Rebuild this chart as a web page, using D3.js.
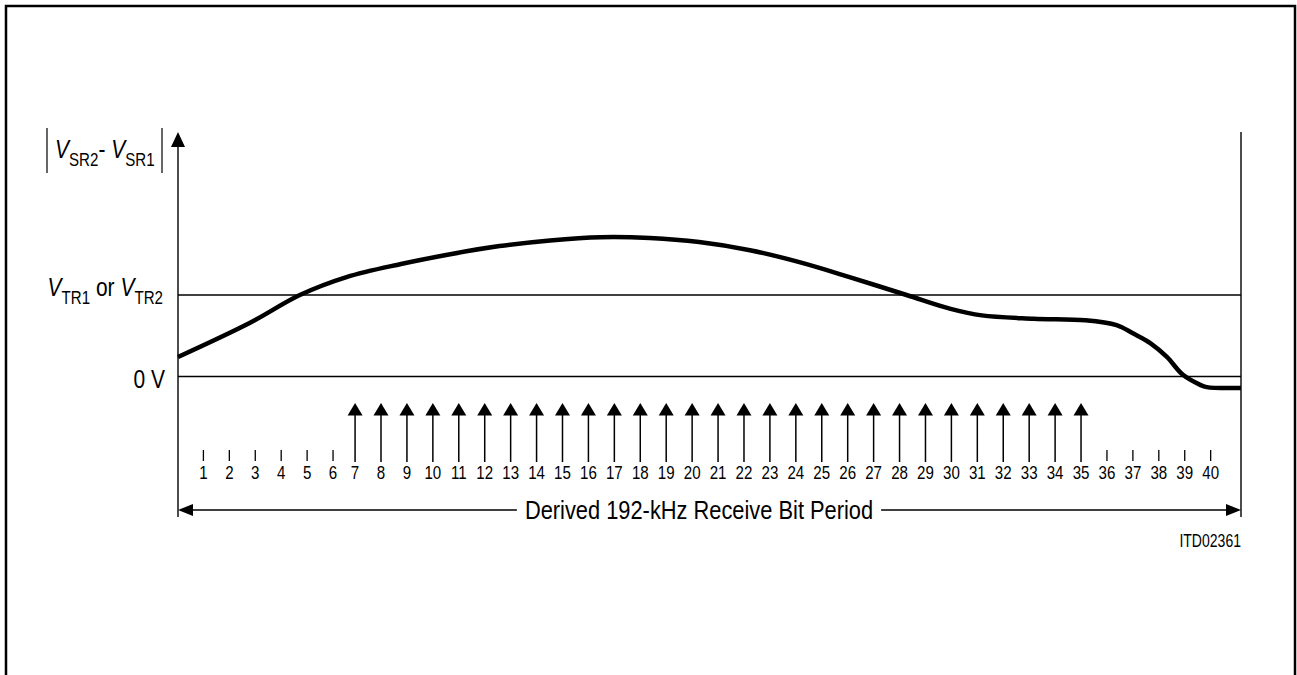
<!DOCTYPE html>
<html>
<head>
<meta charset="utf-8">
<script src="https://cdn.jsdelivr.net/npm/d3@7"></script>
<style>
  body { margin: 0; background: #fff; }
  svg text { font-family: "Liberation Sans", Arial, sans-serif; fill: #000; }
</style>
</head>
<body>
<svg id="chart" width="1297" height="675"></svg>
<script>
// signal |VSR2 - VSR1| against time, in bit periods / threshold units (0 V = 0, VTR = 1)
var curveT = [0, 2.78, 4.7, 6.5, 8.6, 10.5, 12.4, 14.35, 16.3, 18.2, 20.1, 22.06, 24.0, 25.9, 28.1, 29.8, 31.0, 33.0, 35.0, 36.2, 36.83, 37.5, 38.14, 38.76, 39.41, 39.68, 41];
var curveV = [0.24, 0.66, 1.0, 1.22, 1.38, 1.5, 1.6, 1.67, 1.71, 1.7, 1.65, 1.55, 1.4, 1.22, 1.0, 0.83, 0.75, 0.71, 0.69, 0.63, 0.53, 0.41, 0.24, 0.02, -0.1, -0.13, -0.14];

var bitNumbers = d3.range(1, 41);
var sampledBits = d3.range(7, 36);   // bits with a sampling arrow
var levels = [0, 1];                  // 0 V and VTR

var svg = d3.select('#chart');

var x = d3.scaleLinear().domain([0, 41]).range([178, 1241]);
var y = d3.scaleLinear().domain([0, 1]).range([376.5, 295]);

var Y_TOP = 132, Y_BOTTOM = 517, PERIOD_Y = 510;
var NARROW = 0.84;

/** bits before sampling starts sit a touch later than the sampled ones */
function bitPos(n) {
    return x(n < 7 ? n - 0.02 : n - 0.17);
}

/** condensed text: no narrow face installed, so squeeze horizontally */
function narrowText(parent, px, py, size, anchor, squeeze) {
    return parent.append('text')
        .attr('transform', 'translate(' + px + ',' + py + ') scale(' + (squeeze || NARROW) + ',1)')
        .attr('font-size', size)
        .attr('text-anchor', anchor || 'start');
}

function arrowHead(g, tipX, tipY, dir, len, half) {
    var pts;
    if (dir === 'up') pts = [[tipX, tipY], [tipX - half, tipY + len], [tipX + half, tipY + len]];
    else if (dir === 'left') pts = [[tipX, tipY], [tipX + len, tipY - half], [tipX + len, tipY + half]];
    else pts = [[tipX, tipY], [tipX - len, tipY - half], [tipX - len, tipY + half]];
    g.append('path').attr('d', d3.line()(pts) + 'Z').attr('fill', '#000');
}

/** V's in italic, subscripts dropped; plain strings go back on the baseline */
function subLabel(t, parts) {
    parts.forEach(function(p) {
        if (p === 'V') t.append('tspan').attr('font-style', 'italic').text('V');
        else if (typeof p === 'object') t.append('tspan').attr('font-size', 18).attr('dy', 8).text(p.sub);
        else t.append('tspan').attr('dy', -8).text(p);
    });
}

// outer frame
svg.append('rect')
    .attr('x', 6).attr('y', 6).attr('width', 1289).attr('height', 700)
    .attr('fill', 'none').attr('stroke', '#000').attr('stroke-width', 2.5);

// y axis and right boundary
svg.append('line')
    .attr('x1', x(0)).attr('x2', x(0)).attr('y1', Y_TOP + 10).attr('y2', Y_BOTTOM)
    .attr('stroke', '#000').attr('stroke-width', 1.4);
arrowHead(svg, x(0), Y_TOP, 'up', 15, 7);

svg.append('line')
    .attr('x1', x(41)).attr('x2', x(41)).attr('y1', Y_TOP).attr('y2', Y_BOTTOM)
    .attr('stroke', '#000').attr('stroke-width', 1.4);

// reference levels
svg.selectAll('.level')
    .data(levels)
    .enter()
    .append('line')
        .attr('class', 'level')
        .attr('x1', x(0)).attr('x2', x(41))
        .attr('y1', function(d){ return y(d); })
        .attr('y2', function(d){ return y(d); })
        .attr('stroke', '#000').attr('stroke-width', 1.3);

// signal curve
var line = d3.line()
    .x(function(d){ return x(d[0]); })
    .y(function(d){ return y(d[1]); })
    .curve(d3.curveCatmullRom.alpha(0.5));

svg.append('path')
    .datum(d3.zip(curveT, curveV))
    .attr('d', line)
    .attr('fill', 'none')
    .attr('stroke', '#000')
    .attr('stroke-width', 4.5)
    .attr('stroke-linejoin', 'round');

// y labels
subLabel(narrowText(svg, 163, y(1) + 1, 25, 'end'),
    ['V', {sub: 'TR1'}, ' or ', 'V', {sub: 'TR2'}]);

narrowText(svg, 165, y(0) + 11, 25, 'end').text('0 V');

subLabel(narrowText(svg, 55, 158, 25, 'start'),
    ['V', {sub: 'SR2'}, '- ', 'V', {sub: 'SR1'}]);

[47, 162].forEach(function(bx) {
    svg.append('line')
        .attr('x1', bx).attr('x2', bx).attr('y1', 128).attr('y2', 173)
        .attr('stroke', '#000').attr('stroke-width', 1.2);
});

// bit ticks, sampling arrows, numbers
var bits = svg.append('g').attr('class', 'bits');

bits.selectAll('.tick')
    .data(bitNumbers.filter(function(n){ return sampledBits.indexOf(n) < 0; }))
    .enter()
    .append('line')
        .attr('x1', bitPos).attr('x2', bitPos)
        .attr('y1', 450).attr('y2', 461)
        .attr('stroke', '#000').attr('stroke-width', 1.3);

bits.selectAll('.sample')
    .data(sampledBits)
    .enter()
    .append('g')
        .attr('class', 'sample')
        .each(function(n) {
            var g = d3.select(this);
            g.append('line')
                .attr('x1', bitPos(n)).attr('x2', bitPos(n))
                .attr('y1', 414).attr('y2', 462)
                .attr('stroke', '#000').attr('stroke-width', 1.5);
            arrowHead(g, bitPos(n), 403, 'up', 12.5, 7.5);
        });

bitNumbers.forEach(function(n) {
    narrowText(bits, bitPos(n), 479, 18, 'middle').text(n);
});

// derived bit period arrow
var period = svg.append('g');
var periodLabel = narrowText(period, 699, PERIOD_Y + 9, 26, 'middle')
    .text('Derived 192-kHz Receive Bit Period');
var halfW = periodLabel.node().getBBox().width * NARROW / 2 + 8;

period.append('line')
    .attr('x1', x(0) + 10).attr('x2', 699 - halfW).attr('y1', PERIOD_Y).attr('y2', PERIOD_Y)
    .attr('stroke', '#000').attr('stroke-width', 1.4);
period.append('line')
    .attr('x1', 699 + halfW).attr('x2', x(41) - 10).attr('y1', PERIOD_Y).attr('y2', PERIOD_Y)
    .attr('stroke', '#000').attr('stroke-width', 1.4);
arrowHead(period, x(0), PERIOD_Y, 'left', 15, 6);
arrowHead(period, x(41), PERIOD_Y, 'right', 15, 6);

narrowText(svg, x(41), 547, 18, 'end', 0.78).text('ITD02361');
</script>
</body>
</html>
